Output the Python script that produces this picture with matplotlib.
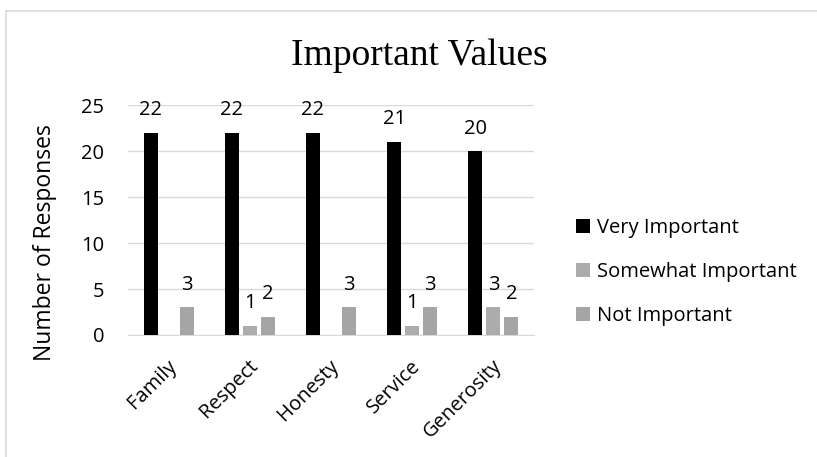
#bar chart of how important each value is to the people who answered

import matplotlib.pyplot as plt
import matplotlib.transforms as mtransforms
import numpy as np

categories = ['Family', 'Respect', 'Honesty', 'Service', 'Generosity']
very_important = [22, 22, 22, 21, 20]
somewhat_important = [0, 1, 0, 1, 3]
not_important = [3, 2, 3, 3, 2]

series_names = ['Very Important', 'Somewhat Important', 'Not Important']
series_colors = ['#000000', '#AEABAB', '#A5A5A5']

plt.rcParams['font.family'] = ['Open Sans', 'DejaVu Sans']

fig = plt.figure(figsize=(8.17, 4.57), dpi=100)
ax = fig.add_axes([0.1567, 0.267, 0.4969, 0.503])

x = np.arange(len(categories))
width = 0.172
pitch = 0.222
series = [very_important, somewhat_important, not_important]

for k in range(3):
    pos = x + (k - 1) * pitch
    ax.bar(pos, series[k], width=width, color=series_colors[k],
           label=series_names[k], zorder=3)
    for p, v in zip(pos, series[k]):
        # excel leaves zero labels out here
        if v == 0:
            continue
        ax.annotate(str(v), (p, v), xytext=(0, 9), textcoords='offset points',
                    ha='center', va='bottom', fontsize=14.5, zorder=4)

ax.set_xlim(-0.5, len(categories) - 0.5)
ax.set_ylim(0, 25)
ax.set_yticks([0, 5, 10, 15, 20, 25])
ax.grid(axis='y', color='#D9D9D9', linewidth=1, zorder=0)
for side in ['top', 'right', 'left']:
    ax.spines[side].set_visible(False)
ax.spines['bottom'].set_color('#D9D9D9')
ax.tick_params(length=0, labelsize=14.5)
ax.tick_params(axis='y', pad=17)
ax.tick_params(axis='x', pad=8)
ax.set_xticks(x)
ax.set_xticklabels(categories, rotation=45, ha='right', rotation_mode='anchor')
# nudge the slanted labels down a bit
shift = mtransforms.ScaledTranslation(-0.02, -0.1, fig.dpi_scale_trans)
for lbl in ax.get_xticklabels():
    lbl.set_transform(lbl.get_transform() + shift)

ax.set_ylabel('Number of Responses', fontsize=16.5)
ax.yaxis.set_label_coords(45 / 817, 0.5, transform=fig.transFigure)
ax.yaxis.label.set_va('center')
ax.yaxis.label.set_y(1 - 243 / 457)

fig.text(0.513, 1 - 65 / 457, 'Important Values', ha='center', va='baseline',
         fontsize=27, family='Liberation Serif')

ax.legend(loc='center left', bbox_to_anchor=(576 / 817, 1 - 272 / 457),
          bbox_transform=fig.transFigure, frameon=False, borderpad=0,
          borderaxespad=0, fontsize=14.5, handlelength=0.7, handleheight=0.7,
          handletextpad=0.35, labelspacing=1.2)

# light frame round the chart like the excel export
fig.add_artist(plt.Line2D([0.007, 0.007], [0, 0.976], color='#D9D9D9', linewidth=1.2))
fig.add_artist(plt.Line2D([0.007, 1], [0.976, 0.976], color='#D9D9D9', linewidth=1.2))

fig.savefig('out.png', dpi=100)
